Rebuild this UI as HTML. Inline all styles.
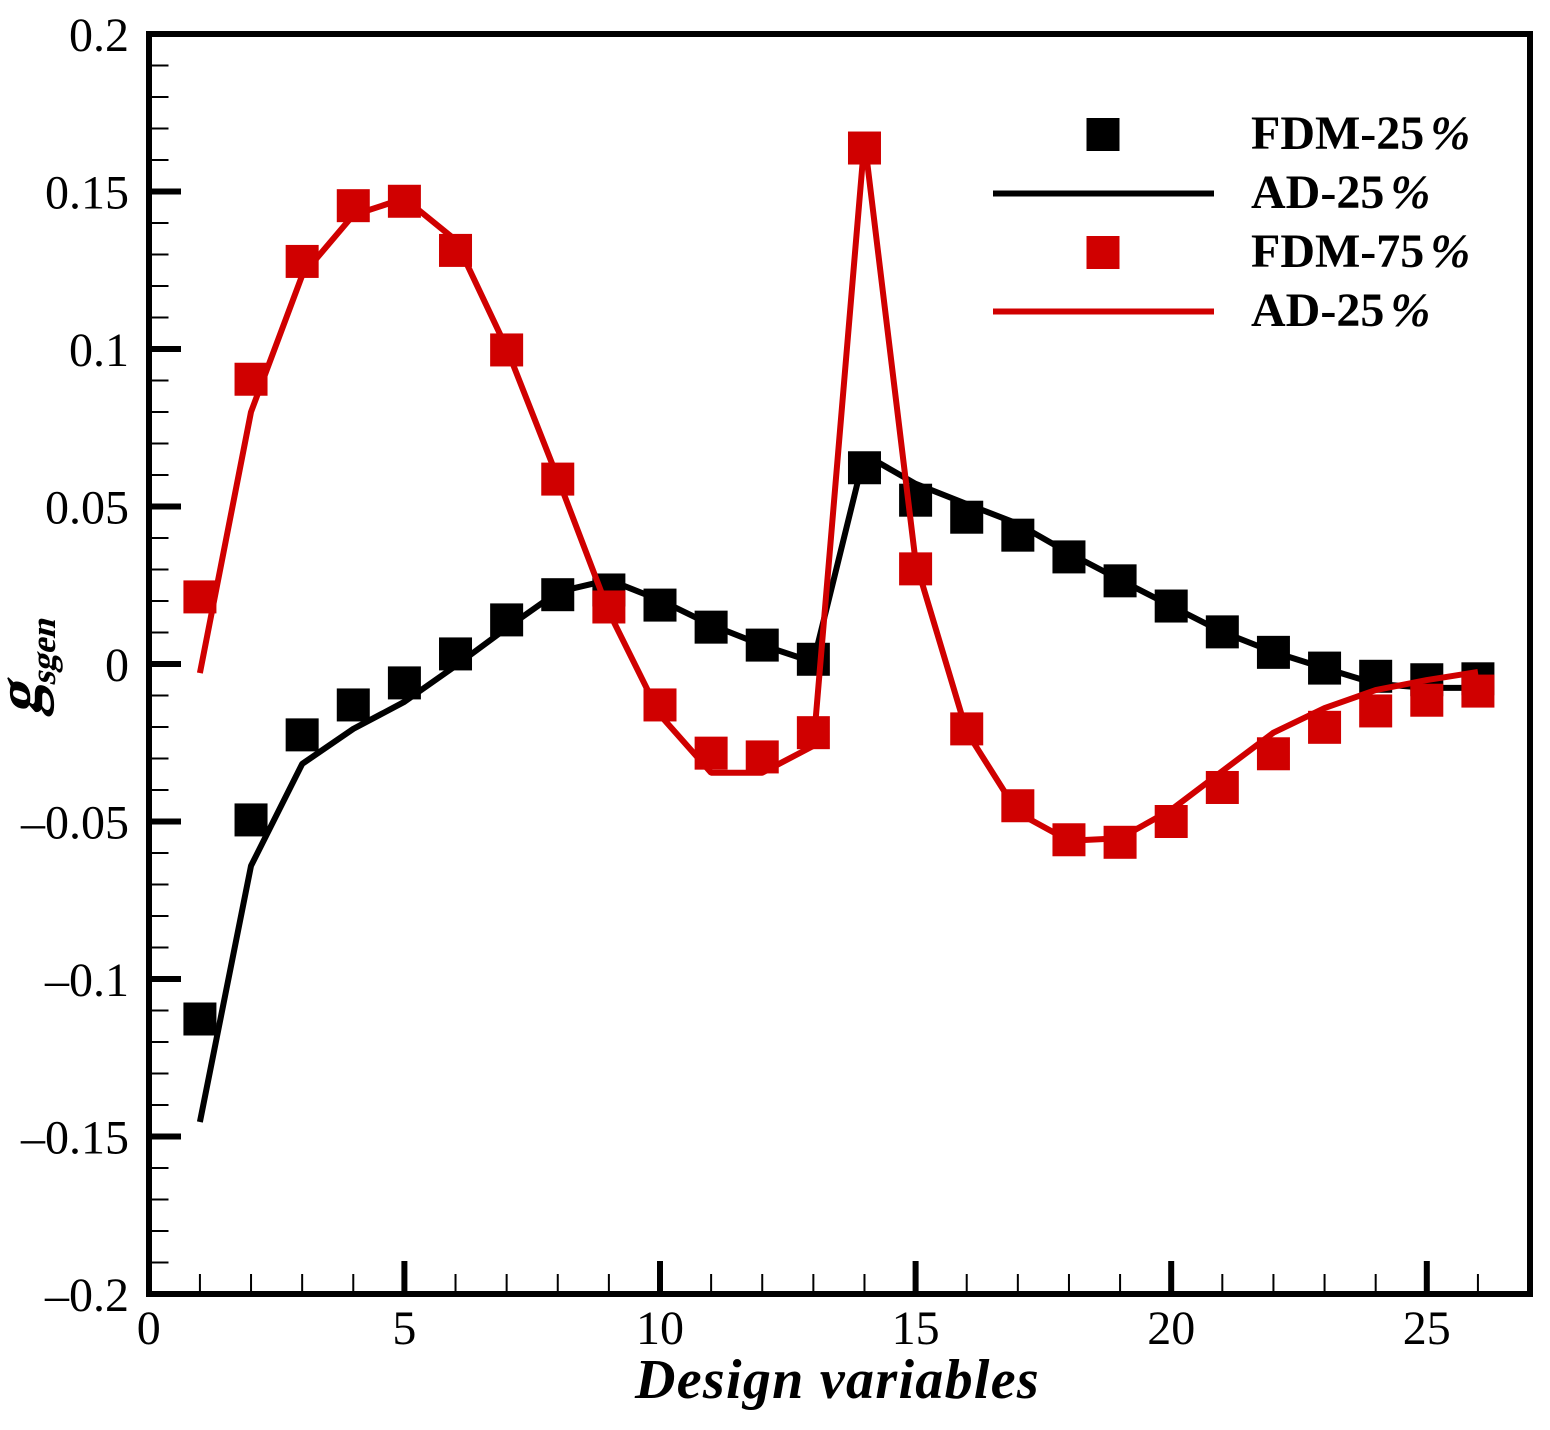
<!DOCTYPE html>
<html lang="en">
<head>
<meta charset="utf-8">
<title>Design variables chart</title>
<style>
html,body{margin:0;padding:0;background:#fff;width:1550px;height:1430px;overflow:hidden}
svg{display:block}
text{font-family:"Liberation Serif",serif;fill:#000}
.tick{font-size:48px}
.leg{font-size:48px;font-weight:bold}
</style>
</head>
<body>
<svg id="chart" width="1550" height="1430" viewBox="0 0 1550 1430" xmlns="http://www.w3.org/2000/svg">
  <g id="axes-layer"></g>
  <g id="series-layer"></g>
  <rect x="149" y="34" width="1381" height="1260" fill="none" stroke="#000" stroke-width="6"></rect>
  <text x="635" y="1398" font-size="56" font-weight="bold" font-style="italic" letter-spacing="1.3">Design variables</text>
  <g transform="translate(40,716) rotate(-90) skewX(-15)">
    <text font-size="64" font-weight="bold" x="0" y="0">g<tspan font-size="35" dx="2" dy="15">sgen</tspan></text>
  </g>
  <g id="legend">
    <rect x="1086.5" y="118" width="33" height="33" fill="#000"></rect>
    <text class="leg" x="1251" y="149">FDM-25<tspan font-style="italic" dx="6">%</tspan></text>
    <line x1="993" x2="1214" y1="193.5" y2="193.5" stroke="#000" stroke-width="6"></line>
    <text class="leg" x="1251" y="208">AD-25<tspan font-style="italic" dx="6">%</tspan></text>
    <rect x="1086.5" y="236" width="33" height="33" fill="#d00000"></rect>
    <text class="leg" x="1251" y="267">FDM-75<tspan font-style="italic" dx="6">%</tspan></text>
    <line x1="993" x2="1214" y1="311.5" y2="311.5" stroke="#d00000" stroke-width="6"></line>
    <text class="leg" x="1251" y="326">AD-25<tspan font-style="italic" dx="6">%</tspan></text>
  </g>
</svg>
<script>
const designVariables = [1,2,3,4,5,6,7,8,9,10,11,12,13,14,15,16,17,18,19,20,21,22,23,24,25,26];
const fdm25 = [-0.1127,-0.0495,-0.0225,-0.013,-0.006,0.0032,0.014,0.022,0.0235,0.0187,0.0117,0.006,0.0015,0.0623,0.052,0.0466,0.0409,0.034,0.0264,0.0184,0.0102,0.0037,-0.0013,-0.0039,-0.005,-0.0047];
const ad25 = [-0.1454,-0.0641,-0.0317,-0.0206,-0.012,-0.0006,0.0114,0.0229,0.0267,0.0203,0.0124,0.006,0.0006,0.0665,0.0572,0.0508,0.0445,0.0352,0.0267,0.0184,0.0102,0.0038,-0.0013,-0.0063,-0.0076,-0.0076];
const fdm75 = [0.0213,0.0904,0.1278,0.1455,0.1469,0.1313,0.0997,0.0587,0.0181,-0.013,-0.0283,-0.0295,-0.0218,0.1638,0.0302,-0.0206,-0.045,-0.0558,-0.0566,-0.05,-0.0392,-0.0285,-0.0201,-0.0149,-0.0115,-0.0086];
const ad75 = [-0.0029,0.08,0.1234,0.1425,0.1478,0.1346,0.1003,0.059,0.0165,-0.0162,-0.0345,-0.0345,-0.026,0.1663,0.0325,-0.0215,-0.0472,-0.0561,-0.0553,-0.0463,-0.034,-0.0218,-0.014,-0.0083,-0.0051,-0.0025];
const xTickValues = [0,5,10,15,20,25];
const xTickLabels = ["0","5","10","15","20","25"];
const yTickValues = [0.2,0.15,0.1,0.05,0,-0.05,-0.1,-0.15,-0.2];
const yTickLabels = ["0.2","0.15","0.1","0.05","0","\u20130.05","\u20130.1","\u20130.15","\u20130.2"];

const SVG_NS = "http://www.w3.org/2000/svg";
function xAxis(v){ return 148.8 + v * 51.12; }
function yAxis(v){ return 664 - v * 3150; }

const axesLayer = document.getElementById("axes-layer");
const seriesLayer = document.getElementById("series-layer");

function tickLine(x1,y1,x2,y2,w){
  const l = document.createElementNS(SVG_NS,"line");
  l.setAttribute("x1",x1);
  l.setAttribute("y1",y1);
  l.setAttribute("x2",x2);
  l.setAttribute("y2",y2);
  l.setAttribute("stroke","#000");
  l.setAttribute("stroke-width",w);
  axesLayer.appendChild(l);
  return l;
}

// x ticks
for (let i = 1; i <= 26; i++) {
  if (i % 5 === 0) continue;
  const t = tickLine(xAxis(i),1294,xAxis(i),1274,2);
  
  
}
xTickValues.forEach(function(v,i){
  if (v !== 0) {
    const t = tickLine(xAxis(v),1294,xAxis(v),1261,6);
    
    
  }
  const s = document.createElementNS(SVG_NS,"text");
  
  
  s.setAttribute("class","tick");
  s.setAttribute("x",xAxis(v));
  s.setAttribute("y",1344);
  s.setAttribute("text-anchor","middle");
  s.textContent = xTickLabels[i];
  axesLayer.appendChild(s);
});

// y ticks
for (let k = -19; k <= 19; k++) {
  if (k % 5 === 0) continue;
  const t = tickLine(149,yAxis(k/100),168.5,yAxis(k/100),2);
  
  
}
yTickValues.forEach(function(v,i){
  if (Math.abs(v) < 0.2) {
    const t = tickLine(149,yAxis(v),181,yAxis(v),6);
    
    
  }
  const s = document.createElementNS(SVG_NS,"text");
  
  
  s.setAttribute("class","tick");
  s.setAttribute("x",129);
  s.setAttribute("y",yAxis(v)+17);
  s.setAttribute("text-anchor","end");
  s.textContent = yTickLabels[i];
  axesLayer.appendChild(s);
});

function drawMarkers(values,color,name){
  const g = document.createElementNS(SVG_NS,"g");
  
  
  values.forEach(function(v,i){
    const r = document.createElementNS(SVG_NS,"rect");
    
    
    r.setAttribute("x",xAxis(designVariables[i])-16.5);
    r.setAttribute("y",yAxis(v)-16.5);
    r.setAttribute("width",33);
    r.setAttribute("height",33);
    r.setAttribute("fill",color);
    g.appendChild(r);
  });
  seriesLayer.appendChild(g);
}
function drawLine(values,color,name){
  const p = document.createElementNS(SVG_NS,"polyline");
  
  
  p.setAttribute("points",values.map(function(v,i){
    return xAxis(designVariables[i]).toFixed(1)+","+yAxis(v).toFixed(1);
  }).join(" "));
  p.setAttribute("fill","none");
  p.setAttribute("stroke",color);
  p.setAttribute("stroke-width",6);
  p.setAttribute("stroke-linejoin","bevel");
  seriesLayer.appendChild(p);
}
drawMarkers(fdm25,"#000","fdm-25-markers");
drawLine(ad25,"#000","ad-25-line");
drawMarkers(fdm75,"#d00000","fdm-75-markers");
drawLine(ad75,"#d00000","ad-red-line");
</script>
</body>
</html>
